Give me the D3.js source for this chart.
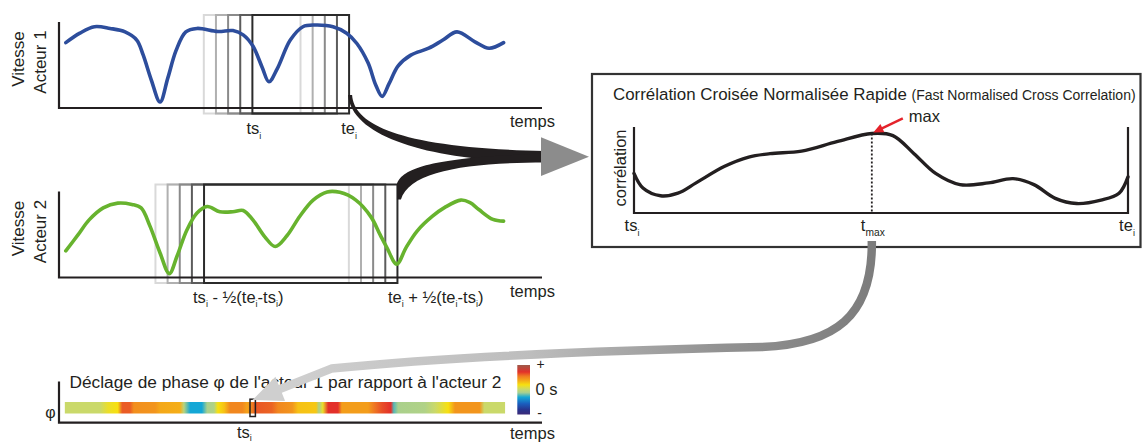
<!DOCTYPE html>
<html><head><meta charset="utf-8">
<script src="https://cdn.jsdelivr.net/npm/d3@7"></script>
<style>
body{margin:0;background:#fff}
svg{display:block}
text{font-family:Arial,"Liberation Sans",Helvetica,sans-serif;fill:#231f20;white-space:pre}
</style>
</head><body>
<svg id="c" width="1143" height="444"></svg>
<script>
// ---------- data ----------
const speedTime1 = [1.4, 4.3, 7.3, 10.5, 13.6, 16.0, 17.3, 19.0, 20.8, 22.4, 24.1, 26.1, 28.4, 32.7, 35.8, 37.9, 39.9, 41.8, 43.2, 44.9, 47.6, 50.2, 52.7, 56.4, 59.2, 61.3, 63.6, 65.2, 66.5, 67.9, 69.8, 72.4, 76.1, 79.0, 81.9, 85.6, 88.5, 91.5];
const speed1 = [7.6, 8.7, 9.45, 9.25, 8.85, 7.9, 6.2, 3.25, 0.7, 3.5, 6.7, 8.85, 9.25, 8.9, 9.0, 8.5, 7.2, 4.75, 3.05, 4.55, 7.9, 9.45, 9.65, 9.45, 8.7, 7.5, 5.25, 2.65, 1.35, 2.8, 4.9, 6.15, 6.95, 7.9, 8.85, 7.7, 6.95, 7.6];
const speedTime2 = [1.4, 3.9, 6.2, 9.1, 12.1, 15.0, 16.9, 18.7, 20.8, 22.7, 24.3, 26.3, 28.4, 30.5, 33.1, 35.8, 37.9, 39.9, 42.4, 44.5, 46.9, 49.6, 52.3, 55.2, 57.8, 61.1, 64.2, 66.1, 67.5, 69.5, 71.4, 73.7, 76.8, 79.4, 82.7, 84.6, 86.4, 89.3, 91.5];
const speed2 = [3.1, 4.95, 6.7, 8.1, 8.65, 8.5, 8.1, 6.0, 2.85, 0.45, 2.5, 5.5, 7.5, 8.25, 7.65, 7.65, 7.8, 6.7, 4.7, 3.6, 4.85, 7.15, 9.0, 9.95, 9.9, 9.0, 7.05, 4.95, 3.45, 1.55, 3.45, 5.4, 7.1, 8.15, 9.0, 8.7, 7.9, 6.75, 6.55];
const windowStart = 39.8;
const windowEnd = 59.7;
const ghostShifts = [-10, -7.5, -5, -2.5, 0];
const corrLag = [39.8, 40.16, 40.87, 41.57, 42.3, 43.43, 44.42, 45.28, 46.55, 47.97, 49.38, 50.23, 51.08, 51.95, 52.93, 54.08, 55.07, 55.91, 56.77, 57.63, 58.61, 59.34, 59.7];
const corrValue = [0.46, 0.29, 0.2, 0.23, 0.35, 0.54, 0.65, 0.69, 0.72, 0.83, 0.925, 0.9, 0.69, 0.46, 0.33, 0.35, 0.4, 0.33, 0.17, 0.11, 0.15, 0.23, 0.42];
const phaseTime = [1.2, 8.4, 10.1, 12.1, 13.0, 14.6, 15.4, 19.8, 20.8, 24.9, 25.7, 27.0, 29.4, 30.5, 31.9, 32.7, 34.0, 35.2, 37.7, 38.7, 39.3, 40.5, 43.8, 45.1, 48.0, 49.2, 52.9, 53.5, 54.3, 55.4, 57.4, 58.2, 63.6, 64.8, 66.5, 68.3, 68.9, 69.8, 75.3, 77.4, 80.1, 81.5, 86.6, 87.5, 91.8];
const phaseValue = [0.02, 0.02, 0.15, 0.2, 0.62, 0.62, 0.47, 0.45, 0.38, 0.36, -0.05, -0.3, -0.3, -0.1, -0.08, 0.2, 0.3, 0.5, 0.5, 0.4, 0.45, 0.63, 0.6, 0.5, 0.45, 0.3, 0.28, -0.1, 0.15, 0.72, 0.72, 0.42, 0.42, 0.55, 0.65, 0.72, -0.22, -0.1, -0.08, 0.02, 0.2, 0.45, 0.45, 0.02, 0.02];
const colorDomain = [-1, -0.8, -0.56, -0.3, -0.12, 0.02, 0.2, 0.4, 0.55, 0.72, 1];
const colorRange = ["#3b2a78", "#27358f", "#1a5fbf", "#14a7d6", "#a5cf92", "#cad96a", "#f7e010", "#f4a21a", "#ef7a22", "#e3302a", "#9d5a4a"];
const legendLabels = ["+", "0 s", "-"];

// ---------- styles ----------
const ink = "#231f20";
const ghostColors = ["#d9d9d9", "#b0b0b0", "#8a8a8a", "#5c5c5c", "#2b2b2b"];
const FS = 16.5;

const svg = d3.select("#c");
const defs = svg.append("defs");

const t = d3.scaleLinear().domain([0, 99.4]).range([59, 542]);
const v1 = d3.scaleLinear().domain([0, 10]).range([108, 22]);
const v2 = d3.scaleLinear().domain([0, 10]).range([277.5, 191.5]);
const color = d3.scaleLinear().domain(colorDomain).range(colorRange).interpolate(d3.interpolateRgb);

function richText(parent, x, y, parts, size, anchor, subScale, subDrop) {
  const el = parent.append("text").attr("x", x).attr("y", y)
    .attr("font-size", size).attr("text-anchor", anchor || "start");
  let low = false;
  const sc = subScale || 0.55;
  const drop = subDrop || size * 0.3;
  parts.forEach(p => {
    const isSub = typeof p !== "string";
    const sp = el.append("tspan").text(isSub ? p.sub : p);
    if (isSub) {
      sp.attr("font-size", size * sc);
      if (!low) { sp.attr("dy", drop); low = true; }
    } else if (low) { sp.attr("dy", -drop); low = false; }
  });
  return el;
}

function speedPanel(vs, times, vals, col, ws, we, axisLabel) {
  const g = svg.append("g");
  ghostShifts.forEach((s, i) => {
    g.append("rect")
      .attr("x", t(ws + s)).attr("y", vs(10) - 7)
      .attr("width", t(we + s) - t(ws + s)).attr("height", vs(0) - vs(10) + 12.5)
      .attr("fill", "none").attr("stroke", ghostColors[i]).attr("stroke-width", 2);
  });
  g.append("path").attr("d", `M${t(0)},${vs(10)}V${vs(0)}H${t(99.4)}`)
    .attr("fill", "none").attr("stroke", ink).attr("stroke-width", 2.2);
  const line = d3.line().x((d, i) => t(times[i])).y(d => vs(d)).curve(d3.curveCatmullRom.alpha(0.5));
  g.append("path").datum(vals).attr("d", line)
    .attr("fill", "none").attr("stroke", col).attr("stroke-width", 3.6)
    .attr("stroke-linecap", "round").attr("stroke-linejoin", "round");
  const mid = (vs(0) + vs(10)) / 2;
  g.append("text").attr("transform", `translate(23.5,${mid - 6}) rotate(-90)`)
    .attr("text-anchor", "middle").attr("font-size", 17).text("Vitesse");
  g.append("text").attr("transform", `translate(45.5,${mid - 3}) rotate(-90)`)
    .attr("text-anchor", "middle").attr("font-size", 17).text(axisLabel);
  g.append("text").attr("x", 510).attr("y", vs(0) + 19).attr("font-size", FS).text("temps");
  return g;
}

// ---------- top panel ----------
speedPanel(v1, speedTime1, speed1, "#2d4d9c", windowStart, windowEnd, "Acteur 1");
richText(svg, t(windowStart) + 1.5, 134, ["ts", {sub: "i"}], FS, "middle");
richText(svg, t(windowEnd), 134, ["te", {sub: "i"}], FS, "middle");

// ---------- middle panel ----------
const half = (windowEnd - windowStart) / 2;
speedPanel(v2, speedTime2, speed2, "#67b32e", windowStart - half, windowEnd + half, "Acteur 2");
richText(svg, t(windowStart - half) - 11, 302.5,
  ["ts", {sub: "i"}, " - ½(te", {sub: "i"}, "-ts", {sub: "i"}, ")"], FS, "start");
richText(svg, t(windowEnd + half) - 9.5, 302.5,
  ["te", {sub: "i"}, " + ½(te", {sub: "i"}, "-ts", {sub: "i"}, ")"], FS, "start");

// ---------- thick black arrows ----------
const A = {x: t(windowEnd), y: v1(0)};
const B = {x: t(windowEnd + half), y: v2(10) - 7};
svg.append("path")
  .attr("d", `M${A.x - 1},${A.y - 13} L${A.x + 3},${A.y - 13} C${A.x + 5},${A.y + 17} ${A.x + 51},${A.y + 40} 545,${A.y + 43} L545,${A.y + 54} C${A.x + 91},${A.y + 54} ${A.x + 3},${A.y + 32} ${A.x - 1},${A.y - 13} Z`)
  .attr("fill", ink);
svg.append("path")
  .attr("d", `M${B.x - 0.5},${B.y + 15} L${B.x - 0.5},${B.y} C${B.x + 4.5},${B.y - 16} ${B.x + 32},${B.y - 27} 545,${B.y - 31} L545,${B.y - 22} C${B.x + 72},${B.y - 22} ${B.x + 12},${B.y - 14} ${B.x + 3.5},${B.y + 15} Z`)
  .attr("fill", ink);

// ---------- correlation panel ----------
const box = {x: 592, y: 74, w: 548.5, h: 173};
const cx = d3.scaleLinear().domain([windowStart, windowEnd]).range([634, 1128]);
const cy = d3.scaleLinear().domain([0, 1]).range([213, 127]);

svg.append("polygon")
  .attr("points", `${box.x - 51},${cy(0.88)} ${box.x - 3},${cy(0.655)} ${box.x - 51},${cy(0.43)}`)
  .attr("fill", "#8c8c8c");

svg.append("rect").attr("x", box.x).attr("y", box.y).attr("width", box.w).attr("height", box.h)
  .attr("fill", "none").attr("stroke", "#333").attr("stroke-width", 2.2);

const title = svg.append("text").attr("x", 613).attr("y", 100).attr("font-size", 16.9);
title.append("tspan").text("Corrélation Croisée Normalisée Rapide ");
title.append("tspan").attr("font-size", 14).text("(Fast Normalised Cross Correlation)");

svg.append("path").attr("d", `M${cx(windowStart)},${cy(1)}V${cy(0)}H${cx(windowEnd)}V${cy(1)}`)
  .attr("fill", "none").attr("stroke", ink).attr("stroke-width", 2.2);

const cLine = d3.line().x((d, i) => cx(corrLag[i])).y(d => cy(d)).curve(d3.curveCatmullRom.alpha(0.5));
svg.append("path").datum(corrValue).attr("d", cLine)
  .attr("fill", "none").attr("stroke", ink).attr("stroke-width", 3.4).attr("stroke-linecap", "round");

const iMax = d3.maxIndex(corrValue);
const tMax = corrLag[iMax];
const px = cx(tMax), py = cy(corrValue[iMax]);
svg.append("line").attr("x1", px).attr("x2", px).attr("y1", py).attr("y2", cy(0))
  .attr("stroke", ink).attr("stroke-width", 1.8).attr("stroke-dasharray", "2,2");

// red arrow
{
  const tip = {x: px + 1.5, y: py - 1};
  const from = {x: px + 31, y: py - 15};
  const dx = tip.x - from.x, dy = tip.y - from.y, L = Math.hypot(dx, dy);
  const ux = dx / L, uy = dy / L;
  const bx = tip.x - 10 * ux, by = tip.y - 10 * uy;
  svg.append("line").attr("x1", from.x).attr("y1", from.y).attr("x2", bx + ux).attr("y2", by + uy)
    .attr("stroke", "#e4232b").attr("stroke-width", 2.4);
  svg.append("polygon")
    .attr("points", `${tip.x},${tip.y} ${bx - 4.5 * uy},${by + 4.5 * ux} ${bx + 4.5 * uy},${by - 4.5 * ux}`)
    .attr("fill", "#e4232b");
}
svg.append("text").attr("x", px + 37).attr("y", 121.5).attr("font-size", FS).text("max");

svg.append("text").attr("transform", `translate(625.5,${(cy(0) + cy(1)) / 2 - 2}) rotate(-90)`)
  .attr("text-anchor", "middle").attr("font-size", FS).text("corrélation");
richText(svg, cx(windowStart) - 2, 231, ["ts", {sub: "i"}], FS, "middle");
richText(svg, px + 1, 231, ["t", {sub: "max"}], FS, "middle", 0.62);
richText(svg, cx(windowEnd) - 1, 231, ["te", {sub: "i"}], FS, "middle");

// ---------- bottom phase strip ----------
const stripY = 402, stripH = 11.5;
const grad = defs.append("linearGradient").attr("id", "phaseGrad")
  .attr("gradientUnits", "userSpaceOnUse")
  .attr("x1", t(phaseTime[0])).attr("x2", t(phaseTime[phaseTime.length - 1])).attr("y1", 0).attr("y2", 0);
const t0 = phaseTime[0], t1 = phaseTime[phaseTime.length - 1];
phaseTime.forEach((pt, i) => {
  grad.append("stop").attr("offset", (pt - t0) / (t1 - t0)).attr("stop-color", color(phaseValue[i]));
});
svg.append("rect").attr("x", t(t0)).attr("y", stripY).attr("width", t(t1) - t(t0)).attr("height", stripH)
  .attr("fill", "url(#phaseGrad)");

svg.append("path").attr("d", `M${t(0)},381.5V422.7H${t(99.4)}`)
  .attr("fill", "none").attr("stroke", ink).attr("stroke-width", 2.2);
svg.append("text").attr("x", 50.5).attr("y", 418).attr("text-anchor", "middle").attr("font-size", 16).text("φ");
svg.append("text").attr("x", 69.5).attr("y", 387.5).attr("font-size", 17.3)
  .text("Déclage de phase φ de l'acteur 1 par rapport à l'acteur 2");
richText(svg, t(windowStart) - 15.5, 437.5, ["ts", {sub: "i"}], FS, "start", 0.55, 3.5);
svg.append("text").attr("x", 510).attr("y", 439).attr("font-size", FS).text("temps");

svg.append("rect").attr("x", t(windowStart) - 2.4).attr("y", 399.2).attr("width", 5.4).attr("height", 17.3)
  .attr("fill", "none").attr("stroke", ink).attr("stroke-width", 1.5);

// legend
const lg = defs.append("linearGradient").attr("id", "legGrad").attr("x1", 0).attr("x2", 0).attr("y1", 0).attr("y2", 1);
colorDomain.slice().reverse().forEach(d => {
  lg.append("stop").attr("offset", (1 - d) / 2).attr("stop-color", color(d));
});
const legY = d3.scaleLinear().domain([1, -1]).range([365, 414.5]);
svg.append("rect").attr("x", 517.3).attr("y", legY(1)).attr("width", 12.7).attr("height", legY(-1) - legY(1))
  .attr("fill", "url(#legGrad)");
svg.append("text").attr("x", 540.5).attr("y", legY(1) + 4).attr("text-anchor", "middle").attr("font-size", 14).text(legendLabels[0]);
svg.append("text").attr("x", 535.5).attr("y", legY(0) + 5.5).attr("font-size", 16.5).text(legendLabels[1]);
svg.append("text").attr("x", 539.5).attr("y", legY(-1) + 3).attr("text-anchor", "middle").attr("font-size", 14).text(legendLabels[2]);

// ---------- grey curved arrow ----------
{
  const g0 = {x: px, y: box.y + box.h - 6};
  const tip = {x: t(windowStart), y: 400};
  const dir = {x: -0.93, y: 0.37};
  const len = 30, hw = 13;
  const base = {x: tip.x - len * dir.x, y: tip.y - len * dir.y};
  const c2 = {x: base.x - 55 * dir.x, y: base.y - 55 * dir.y};
  const ag = defs.append("linearGradient").attr("id", "arrowGrad").attr("gradientUnits", "userSpaceOnUse")
    .attr("x1", g0.x).attr("x2", tip.x).attr("y1", 0).attr("y2", 0);
  ag.append("stop").attr("offset", 0).attr("stop-color", "#7d7d7d");
  ag.append("stop").attr("offset", 0.25).attr("stop-color", "#929292");
  ag.append("stop").attr("offset", 0.55).attr("stop-color", "#bdbdbd");
  ag.append("stop").attr("offset", 1).attr("stop-color", "#d2d2d2");
  svg.append("path")
    .attr("d", `M${g0.x},${g0.y} C${g0.x + 1},${g0.y + 76} ${g0.x - 37},${g0.y + 103} ${g0.x - 110},${g0.y + 106} C${g0.x - 300},${g0.y + 110} ${c2.x + 100},${c2.y - 10} ${c2.x},${c2.y} L${base.x + 2 * dir.x},${base.y + 2 * dir.y}`)
    .attr("fill", "none").attr("stroke", "url(#arrowGrad)").attr("stroke-width", 8.5);
  svg.append("polygon")
    .attr("points", `${tip.x},${tip.y} ${base.x + hw * dir.y},${base.y - hw * dir.x} ${base.x - hw * dir.y},${base.y + hw * dir.x}`)
    .attr("fill", "#cfcfcf");
}
</script>
</body></html>
